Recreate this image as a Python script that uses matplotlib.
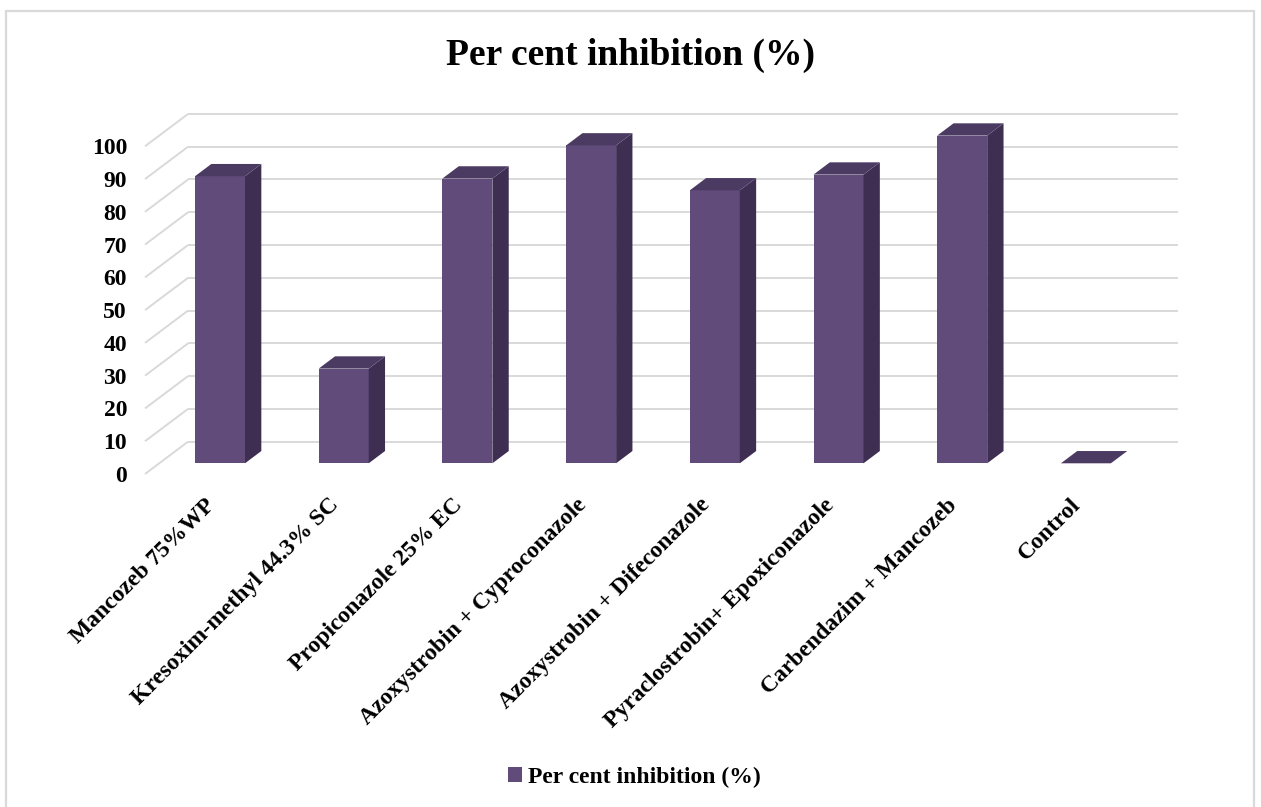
import matplotlib
matplotlib.use("Agg")
import matplotlib.pyplot as plt
from matplotlib.patches import Polygon, Patch, Rectangle

# ---- data -------------------------------------------------------------
treatments = [
    "Mancozeb 75%WP",
    "Kresoxim-methyl 44.3% SC",
    "Propiconazole 25% EC",
    "Azoxystrobin + Cyproconazole",
    "Azoxystrobin + Difeconazole",
    "Pyraclostrobin+ Epoxiconazole",
    "Carbendazim + Mancozeb",
    "Control",
]
inhibition = [87.6, 28.9, 86.9, 97.0, 83.3, 88.1, 100.0, 0.0]
y_ticks = list(range(0, 101, 10))
series_name = "Per cent inhibition (%)"
title_text = "Per cent inhibition (%)"

# ---- styling ----------------------------------------------------------
FONT = ["Liberation Serif", "DejaVu Serif"]
plt.rcParams["font.family"] = FONT
plt.rcParams["font.weight"] = "bold"

FRONT = "#604B7B"
SIDE = "#3E2F52"
TOP = "#4B3B63"
GRID = "#D9D9D9"

W, H, DPI = 1261, 807, 100
fig = plt.figure(figsize=(W / DPI, H / DPI), dpi=DPI)

# pixel geometry of the plotting plane (bar front faces)
PX0, PXS = 220.0, 123.7      # x pixel of first category, pixels per category
PY0, PYS = 463.3, 3.277      # y pixel of value 0, pixels per unit
xlim = (-0.7, 7.8)
ylim = (-5.0, 110.0)
left_px = PX0 + xlim[0] * PXS
right_px = PX0 + xlim[1] * PXS
top_px = PY0 - ylim[1] * PYS
bot_px = PY0 - ylim[0] * PYS
ax = fig.add_axes([left_px / W, 1 - bot_px / H, (right_px - left_px) / W,
                   (bot_px - top_px) / H])
ax.set_xlim(*xlim)
ax.set_ylim(*ylim)

# depth of the 3-D box in data units
DX = 43.0 / PXS
DY = 32.3 / PYS
F_FRONT = 0.33          # depth fraction of the bar front faces
F_BAR = 0.38            # depth of each bar as a fraction of the box
front_dx, front_dy = -F_FRONT * DX, -F_FRONT * DY
bar_dx, bar_dy = F_BAR * DX, F_BAR * DY

wall_left_front = -0.606
wall_right = 7.745

# gridlines: side wall diagonals and back wall horizontals
for v in y_ticks:
    xf, yf = wall_left_front, v + front_dy
    xb, yb = wall_left_front + DX, v + front_dy + DY
    ax.plot([xf, xb], [yf, yb], color=GRID, lw=1.4, zorder=1,
            solid_capstyle="butt")
    ax.plot([xb, wall_right], [yb, yb], color=GRID, lw=1.4, zorder=1,
            solid_capstyle="butt")

# bars: front faces via ax.bar, top and side faces as polygons
BW = 50.0 / PXS
xs = list(range(len(treatments)))
ax.bar(xs, inhibition, width=BW, color=FRONT, edgecolor="none", zorder=3)
for x, v in zip(xs, inhibition):
    x0, x1 = x - BW / 2, x + BW / 2
    top = Polygon([(x0, v), (x1, v), (x1 + bar_dx, v + bar_dy),
                   (x0 + bar_dx, v + bar_dy)], closed=True,
                  facecolor=TOP, edgecolor="none", zorder=3)
    side = Polygon([(x1, 0), (x1 + bar_dx, bar_dy), (x1 + bar_dx, v + bar_dy),
                    (x1, v)], closed=True, facecolor=SIDE,
                   edgecolor="none", zorder=3)
    ax.add_patch(side)
    ax.add_patch(top)

# axes ticks and labels (category labels sit on the front floor edge)
ax.set_yticks([v + front_dy for v in y_ticks])
ax.set_yticklabels([str(v) for v in y_ticks], fontsize=17, fontweight="bold")
label_dx = -8.0 / PXS
ax.set_xticks([x + label_dx for x in xs])
ax.set_xticklabels(treatments, fontsize=17, fontweight="bold", rotation=45,
                   ha="right", va="center", rotation_mode="anchor")
ax.tick_params(axis="y", length=0, pad=4.6)
ax.tick_params(axis="x", length=0, pad=16)
for s in ax.spines.values():
    s.set_visible(False)
ax.set_facecolor("none")

# title
fig.text(0.5, 1 - 55 / H, title_text, ha="center", va="center",
         fontsize=27, fontweight="bold")

# legend
fig.legend(handles=[Patch(facecolor=FRONT, edgecolor="none", label=series_name)],
           loc="center", bbox_to_anchor=(634 / W, 30 / H), frameon=False,
           prop={"size": 17, "weight": "bold"}, handlelength=0.6,
           handleheight=0.6, handletextpad=0.25)

# chart border
fig.patches.append(Rectangle((6 / W, -0.05), (1253.5 - 6) / W, 1.05 - 10.5 / H,
                             transform=fig.transFigure, fill=False,
                             edgecolor=GRID, lw=1.6))

fig.savefig("out.png", dpi=DPI)
